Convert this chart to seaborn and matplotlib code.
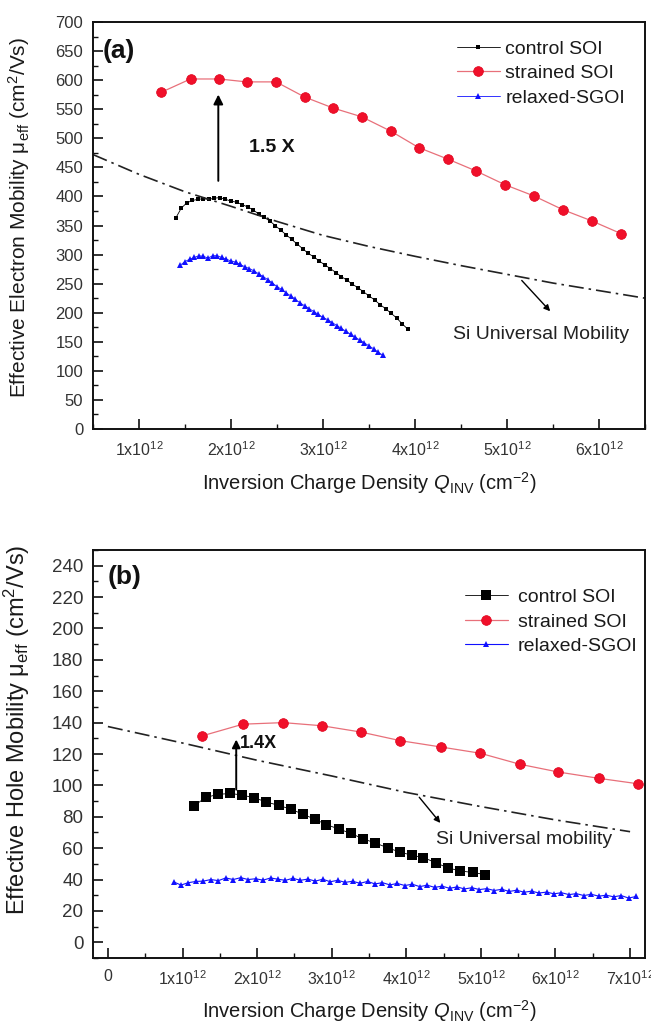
import numpy as np
import pandas as pd
import matplotlib
matplotlib.use("Agg")
import matplotlib.pyplot as plt
import seaborn as sns
from matplotlib.ticker import MultipleLocator, FixedLocator

sns.set_style("white")
plt.rcParams['font.family'] = ['Liberation Sans', 'DejaVu Sans']
plt.rcParams['mathtext.fontset'] = 'custom'
plt.rcParams['mathtext.rm'] = 'Liberation Sans'
plt.rcParams['mathtext.it'] = 'Liberation Sans:italic'
plt.rcParams['mathtext.bf'] = 'Liberation Sans:bold'

# ---------------- Panel (a): electron mobility (x in units of 1e12 cm^-2) ----------------
a_strained_x = [1.24, 1.56, 1.87, 2.17, 2.49, 2.80, 3.11, 3.42, 3.74, 4.04, 4.36, 4.66, 4.98, 5.29, 5.61, 5.92, 6.24]
a_strained_y = [579, 602, 602, 597, 597, 571, 552, 537, 512, 484, 464, 444, 420, 401, 377, 358, 336]

a_control_x = [1.40, 1.46, 1.52, 1.58, 1.64, 1.70, 1.76, 1.82, 1.88, 1.94, 2.00, 2.06, 2.12, 2.18,
               2.24, 2.30, 2.36, 2.42, 2.48, 2.54, 2.60, 2.66, 2.72, 2.78, 2.84, 2.90, 2.96, 3.02,
               3.08, 3.14, 3.20, 3.26, 3.32, 3.38, 3.44, 3.50, 3.56, 3.62, 3.68, 3.74, 3.80, 3.86, 3.92]
a_control_y = [363, 380, 389, 393, 395, 396, 395, 397, 398, 395, 392, 390, 386, 382,
               377, 370, 364, 358, 350, 342, 334, 326, 318, 310, 302, 296, 289, 282,
               276, 269, 262, 256, 249, 243, 236, 229, 222, 214, 207, 199, 191, 181, 172]

a_relaxed_x = [1.45, 1.50, 1.55, 1.60, 1.65, 1.70, 1.75, 1.80, 1.85, 1.90, 1.95, 2.00, 2.05, 2.10, 2.15,
               2.20, 2.25, 2.30, 2.35, 2.40, 2.45, 2.50, 2.55, 2.60, 2.65, 2.70, 2.75, 2.80, 2.85, 2.90,
               2.95, 3.00, 3.05, 3.10, 3.15, 3.20, 3.25, 3.30, 3.35, 3.40, 3.45, 3.50, 3.55, 3.60, 3.65]
a_relaxed_y = [282, 288, 292, 295, 298, 297, 294, 298, 298, 295, 292, 289, 287, 283, 279,
               276, 272, 267, 262, 257, 251, 245, 240, 234, 229, 223, 217, 212, 207, 202,
               197, 192, 188, 183, 178, 173, 168, 163, 158, 153, 148, 143, 138, 132, 127]

a_univ_x = [0.5, 1.0, 1.5, 2.0, 2.5, 3.0, 3.5, 4.0, 4.5, 5.0, 5.5, 6.0, 6.5]
a_univ_y = [472, 438, 408, 383, 357, 333, 314, 297, 281, 266, 251, 238, 225]

a_xticks = [1, 2, 3, 4, 5, 6]
a_xticklabels = ['1x10$^{12}$', '2x10$^{12}$', '3x10$^{12}$', '4x10$^{12}$', '5x10$^{12}$', '6x10$^{12}$']
a_yticks = [0, 50, 100, 150, 200, 250, 300, 350, 400, 450, 500, 550, 600, 650, 700]

# ---------------- Panel (b): hole mobility ----------------
b_strained_x = [1.26, 1.81, 2.35, 2.87, 3.39, 3.92, 4.46, 4.99, 5.52, 6.04, 6.58, 7.11]
b_strained_y = [131.5, 139, 140, 138, 134, 128.5, 124.5, 120.5, 113.5, 108.5, 104.5, 101]

b_control_x = [1.15, 1.31, 1.47, 1.64, 1.80, 1.96, 2.12, 2.29, 2.45, 2.61, 2.77, 2.93, 3.10,
               3.26, 3.42, 3.58, 3.75, 3.91, 4.07, 4.23, 4.40, 4.56, 4.72, 4.89, 5.05]
b_control_y = [86.8, 92.3, 94.2, 94.9, 93.8, 92.1, 89.5, 87.2, 84.9, 81.7, 78.5, 75.0, 72.1,
               69.4, 65.9, 63.4, 60.2, 57.6, 55.5, 54.0, 50.6, 47.4, 45.5, 44.5, 43.2]

b_relaxed_x = [0.88, 0.98, 1.08, 1.18, 1.28, 1.38, 1.48, 1.58, 1.68, 1.78, 1.88, 1.98, 2.08, 2.18,
               2.28, 2.38, 2.48, 2.58, 2.68, 2.78, 2.88, 2.98, 3.08, 3.18, 3.28, 3.38, 3.48, 3.58,
               3.68, 3.78, 3.88, 3.98, 4.08, 4.18, 4.28, 4.38, 4.48, 4.58, 4.68, 4.78, 4.88, 4.98,
               5.08, 5.18, 5.28, 5.38, 5.48, 5.58, 5.68, 5.78, 5.88, 5.98, 6.08, 6.18, 6.28, 6.38,
               6.48, 6.58, 6.68, 6.78, 6.88, 6.98, 7.08]
b_relaxed_y = [38.5, 36.5, 38.0, 38.8, 39.0, 40.0, 39.3, 41.0, 40.0, 41.2, 40.0, 40.5, 39.6, 41.0,
               40.2, 39.5, 40.8, 39.5, 40.3, 39.0, 40.2, 38.6, 39.5, 38.2, 38.9, 37.6, 38.8, 37.2,
               38.0, 36.6, 37.5, 36.2, 37.0, 35.5, 36.4, 35.0, 35.8, 34.4, 35.3, 34.0, 34.8, 33.6,
               34.2, 33.0, 33.8, 32.4, 33.2, 31.9, 32.6, 31.4, 32.0, 30.9, 31.6, 30.4, 31.0, 29.8,
               30.6, 29.4, 30.0, 29.0, 29.8, 28.2, 29.2]

b_univ_x = [0.0, 1.0, 2.0, 3.0, 4.0, 5.0, 6.0, 7.0]
b_univ_y = [137.5, 127, 116, 106, 95.5, 86.5, 78, 70.5]

b_xticks = [0, 1, 2, 3, 4, 5, 6, 7]
b_xticklabels = ['0', '1x10$^{12}$', '2x10$^{12}$', '3x10$^{12}$', '4x10$^{12}$', '5x10$^{12}$', '6x10$^{12}$', '7x10$^{12}$']
b_yticks = [0, 20, 40, 60, 80, 100, 120, 140, 160, 180, 200, 220, 240]

labels = ['control SOI', 'strained SOI', 'relaxed-SGOI']

fig = plt.figure(figsize=(6.51, 10.22), dpi=100)
W, H = 651, 1022
ax1 = fig.add_axes([93 / W, 1 - 429 / H, (645 - 93) / W, (429 - 22) / H])
ax2 = fig.add_axes([93 / W, 1 - 958 / H, (645 - 93) / W, (958 - 550) / H])

tick_col = '#333333'
lab_col = '#1a1a1a'
dashdot = (0, (9, 3, 1.5, 3))


def style_axes(ax, ylabsize):
    for s in ax.spines.values():
        s.set_linewidth(1.4)
        s.set_color('#111111')
    ax.tick_params(which='major', direction='in', length=7, width=1.2, color='#111111',
                   labelsize=11.5, labelcolor=tick_col, pad=8, top=False, right=False,
                   bottom=True, left=True)
    ax.tick_params(axis='y', which='major', labelsize=ylabsize, pad=7)
    ax.tick_params(which='minor', direction='in', length=3.5, width=1.0, color='#111111',
                   top=False, right=False, bottom=True, left=True)
    ax.grid(False)


# ---- panel (a)
sns.lineplot(x=a_control_x, y=a_control_y, ax=ax1, color='black', lw=0.6, marker='s',
             markersize=3.5, markeredgewidth=0, sort=False, label=labels[0])
sns.lineplot(x=a_strained_x, y=a_strained_y, ax=ax1, color='#e8707a', lw=0.9, marker='o',
             markersize=7, markerfacecolor='#f0102a', markeredgecolor='#e0001a',
             markeredgewidth=0.5, sort=False, label=labels[1])
sns.lineplot(x=a_relaxed_x, y=a_relaxed_y, ax=ax1, color='#1010ff', lw=0.6, marker='^',
             markersize=4.5, markeredgewidth=0, sort=False, label=labels[2])
sns.lineplot(x=a_univ_x, y=a_univ_y, ax=ax1, color='#222222', lw=1.2, linestyle=dashdot,
             sort=False, legend=False)

ax1.set_xlim(0.5, 6.5)
ax1.set_ylim(0, 700)
ax1.xaxis.set_major_locator(FixedLocator(a_xticks))
ax1.set_xticklabels(a_xticklabels)
ax1.xaxis.set_minor_locator(MultipleLocator(0.5))
ax1.yaxis.set_major_locator(FixedLocator(a_yticks))
ax1.yaxis.set_minor_locator(MultipleLocator(25))
style_axes(ax1, 12)
ax1.set_xlabel(r'Inversion Charge Density $Q_{\rm INV}$ (cm$^{-2}$)', fontsize=14.5, color=lab_col)
ax1.set_ylabel('Effective Electron Mobility μ$_{\\rm eff}$ (cm$^2$/Vs)', fontsize=15, color=lab_col)
ax1.yaxis.set_label_coords(-0.11, 0.52)
ax1.xaxis.set_label_coords(0.5, -0.1)

ax1.text(0.6, 650, '(a)', fontsize=19, fontweight='bold', va='center', ha='left', color='#111111')
ax1.annotate('', xy=(1.862, 580), xytext=(1.862, 422),
             arrowprops=dict(arrowstyle='-|>', color='black', lw=1.4, mutation_scale=14))
ax1.text(2.2, 485, '1.5 X', fontsize=14, fontweight='bold', va='center', ha='left', color='#111111')
ax1.annotate('', xy=(5.49, 199), xytext=(5.14, 259),
             arrowprops=dict(arrowstyle='-|>', color='black', lw=1.0, mutation_scale=9))
ax1.text(4.41, 162, 'Si Universal Mobility', fontsize=14, va='center', ha='left', color='#222222')

leg1 = ax1.legend(loc='upper left', bbox_to_anchor=(0.645, 0.975), frameon=False, fontsize=14,
                  handlelength=2.2, handletextpad=0.3, labelspacing=0.36, borderaxespad=0)
for t in leg1.get_texts():
    t.set_color('#1a1a1a')

# ---- panel (b)
sns.lineplot(x=b_control_x, y=b_control_y, ax=ax2, color='black', lw=0.6, marker='s',
             markersize=6.5, markeredgewidth=0, sort=False, label=labels[0])
sns.lineplot(x=b_strained_x, y=b_strained_y, ax=ax2, color='#e8707a', lw=0.9, marker='o',
             markersize=7, markerfacecolor='#f0102a', markeredgecolor='#e0001a',
             markeredgewidth=0.5, sort=False, label=labels[1])
sns.lineplot(x=b_relaxed_x, y=b_relaxed_y, ax=ax2, color='#1010ff', lw=0.8, marker='^',
             markersize=4.5, markeredgewidth=0, sort=False, label=labels[2])
sns.lineplot(x=b_univ_x, y=b_univ_y, ax=ax2, color='#222222', lw=1.2, linestyle=dashdot,
             sort=False, legend=False)

ax2.set_xlim(-0.2, 7.2)
ax2.set_ylim(-10, 250)
ax2.xaxis.set_major_locator(FixedLocator(b_xticks))
ax2.set_xticklabels(b_xticklabels)
ax2.xaxis.set_minor_locator(MultipleLocator(0.5))
ax2.yaxis.set_major_locator(FixedLocator(b_yticks))
ax2.yaxis.set_minor_locator(MultipleLocator(10))
style_axes(ax2, 13.5)
ax2.set_xlabel(r'Inversion Charge Density $Q_{\rm INV}$ (cm$^{-2}$)', fontsize=14.5, color=lab_col)
ax2.set_ylabel('Effective Hole Mobility μ$_{\\rm eff}$ (cm$^2$/Vs)', fontsize=17, color=lab_col)
ax2.yaxis.set_label_coords(-0.11, 0.56)
ax2.xaxis.set_label_coords(0.5, -0.098)

ax2.text(0.0, 233, '(b)', fontsize=19, fontweight='bold', va='center', ha='left', color='#111111')
ax2.annotate('', xy=(1.72, 131), xytext=(1.72, 95.5),
             arrowprops=dict(arrowstyle='-|>', color='black', lw=1.4, mutation_scale=12))
ax2.text(1.77, 127, '1.4X', fontsize=13, fontweight='bold', va='center', ha='left', color='#111111')
ax2.annotate('', xy=(4.48, 74.7), xytext=(4.15, 93.8),
             arrowprops=dict(arrowstyle='-|>', color='black', lw=1.0, mutation_scale=9))
ax2.text(4.4, 65.5, 'Si Universal mobility', fontsize=14, va='center', ha='left', color='#222222')

leg2 = ax2.legend(loc='upper left', bbox_to_anchor=(0.66, 0.925), frameon=False, fontsize=14,
                  handlelength=2.2, handletextpad=0.5, labelspacing=0.36, borderaxespad=0)
for t in leg2.get_texts():
    t.set_color('#1a1a1a')

fig.savefig('out.png', dpi=100, facecolor='white')
